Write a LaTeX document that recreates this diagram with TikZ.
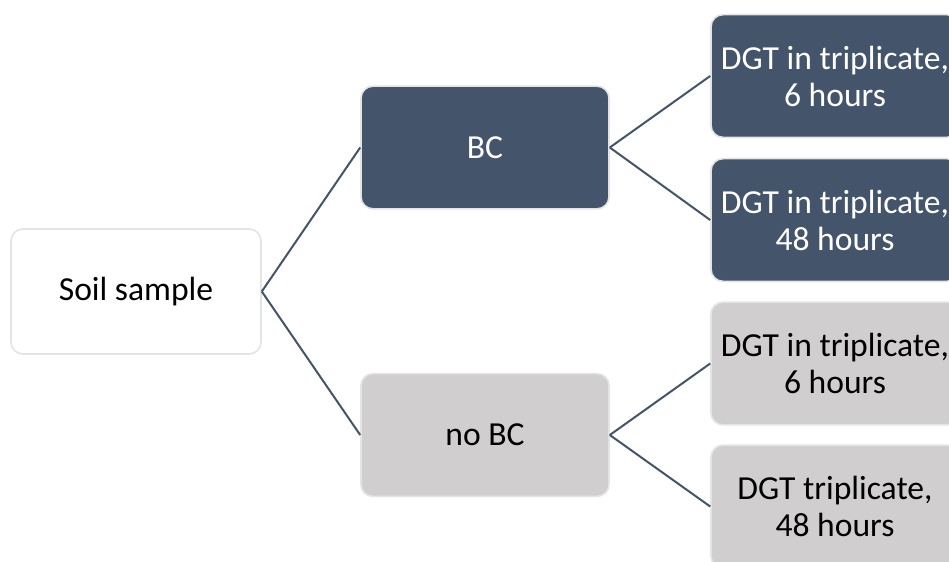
\documentclass[tikz,border=0pt]{standalone}
\usepackage{fontspec}
\setmainfont{Carlito}
\definecolor{darkblue}{HTML}{44546A}
\definecolor{lightgrey}{HTML}{D0CECE}
\definecolor{edgegrey}{HTML}{E4E4E4}
\begin{document}
\begin{tikzpicture}[x=0.75pt,y=-0.75pt,
  box/.style={draw=edgegrey,line width=1.2pt,rounded corners=9pt,
    minimum width=186pt,minimum height=92pt,inner sep=0pt,align=center,
    font=\fontsize{25.2}{27.75}\selectfont},
  darkbox/.style={box,fill=darkblue,text=white},
  greybox/.style={box,fill=lightgrey,text=black},
  link/.style={draw=darkblue,line width=1.5pt}]
\useasboundingbox (0,0) rectangle (949,561);
\clip (0,0) rectangle (949,561);
\fill[white] (0,0) rectangle (949,561);
\node[box,fill=white,text=black,minimum width=187.5pt,minimum height=93.75pt] (soil) at (136,291.5) {Soil sample};
\node[darkbox] (bc) at (485,147.5) {BC};
\node[greybox] (nobc) at (485,435) {no BC};
\node[darkbox] (a1) at (835,76) {DGT in triplicate,\\6 hours};
\node[darkbox] (a2) at (835,220) {DGT in triplicate,\\48 hours};
\node[greybox] (b1) at (835,363.5) {DGT in triplicate,\\6 hours};
\node[greybox] (b2) at (835,506.5) {DGT triplicate,\\48 hours};
\draw[link] (soil.east) -- (bc.west);
\draw[link] (soil.east) -- (nobc.west);
\draw[link] (bc.east) -- (a1.west);
\draw[link] (bc.east) -- (a2.west);
\draw[link] (nobc.east) -- (b1.west);
\draw[link] (nobc.east) -- (b2.west);
\end{tikzpicture}
\end{document}
